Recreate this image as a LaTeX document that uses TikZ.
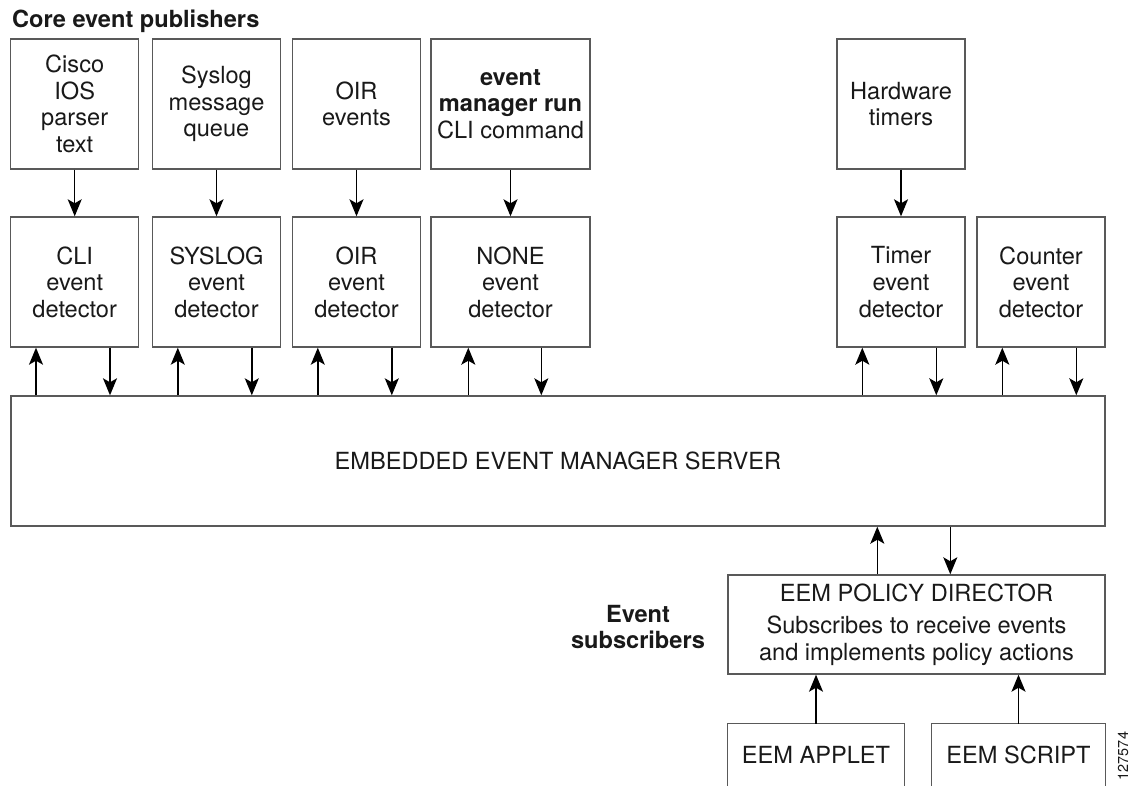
\documentclass[tikz,border=0pt]{standalone}
\usepackage{fontspec}
\setmainfont{TeX Gyre Heros}
\usetikzlibrary{arrows.meta}
\begin{document}
\begin{tikzpicture}[x=0.5pt,y=-0.5pt,>={Stealth[length=8.5pt,width=7pt,inset=2pt]},
  txt/.style={font=\fontsize{11.8}{13.3}\selectfont,align=center,inner sep=0pt,text=black!90},
  pub/.style={txt,draw=black!65,line width=0.7pt,minimum width=64pt,minimum height=65pt},
  arr/.style={->,line width=0.7pt}]
\useasboundingbox (0,0) rectangle (1129,786);
\node[txt,anchor=base west,font=\fontsize{11.8}{13.3}\selectfont\bfseries](title) at (11.7,28){Core event publishers};
% publishers
\node[pub](cisco) at (74.7,104){Cisco\\IOS\\parser\\text};
\node[pub](syslog) at (216.5,104){Syslog\\message\\queue};
\node[pub](oir) at (356.5,104){OIR\\events};
\node[pub,minimum width=79.5pt](run) at (510.5,104){\textbf{event}\\\textbf{manager run}\\CLI command};
\node[pub](hw) at (901,104){Hardware\\timers};
% detectors
\node[pub](cli) at (74.7,282){CLI\\event\\detector};
\node[pub](sysdet) at (216.5,282){SYSLOG\\event\\detector};
\node[pub](oirdet) at (356.5,282){OIR\\event\\detector};
\node[pub,minimum width=79.5pt](none) at (510.5,282){NONE\\event\\detector};
\node[pub](timer) at (901,282){Timer\\event\\detector};
\node[pub](counter) at (1041,282){Counter\\event\\detector};
\node[pub,minimum width=547pt,minimum height=65pt](server) at (557.85,461){EMBEDDED EVENT MANAGER SERVER};
\node[pub,minimum width=188.5pt,minimum height=49.5pt](director) at (916.5,624.5){EEM POLICY DIRECTOR\\[3pt]Subscribes to receive events\\and implements policy actions};
\node[txt,font=\fontsize{11.8}{13.3}\selectfont\bfseries](subs) at (638,627){Event\\subscribers};
\node[txt,minimum width=88pt,minimum height=31pt](applet) at (816,755){EEM APPLET};
\node[txt,minimum width=86.5pt,minimum height=31pt](script) at (1018.5,755){EEM SCRIPT};
\draw[draw=black!65,line width=0.7pt](applet.south west)|-(applet.north east)--(applet.south east);
\draw[draw=black!65,line width=0.7pt](script.south west)|-(script.north east)--(script.south east);
\node[txt,rotate=90,font=\fontsize{7.2}{8}\selectfont](fig) at (1123,756){127574};
% arrows
\draw[arr](cisco)--(cli);
\draw[arr](syslog)--(sysdet);
\draw[arr](oir)--(oirdet);
\draw[arr](run)--(none);
\draw[arr](hw)--(timer);
\draw[arr]([xshift=13pt]cli.south west|-server.north)--([xshift=13pt]cli.south west);
\draw[arr]([xshift=50pt]cli.south west)--([xshift=50pt]cli.south west|-server.north);
\draw[arr]([xshift=13pt]sysdet.south west|-server.north)--([xshift=13pt]sysdet.south west);
\draw[arr]([xshift=50pt]sysdet.south west)--([xshift=50pt]sysdet.south west|-server.north);
\draw[arr]([xshift=13pt]oirdet.south west|-server.north)--([xshift=13pt]oirdet.south west);
\draw[arr]([xshift=50pt]oirdet.south west)--([xshift=50pt]oirdet.south west|-server.north);
\draw[arr]([xshift=19pt]none.south west|-server.north)--([xshift=19pt]none.south west);
\draw[arr]([xshift=55.5pt]none.south west)--([xshift=55.5pt]none.south west|-server.north);
\draw[arr]([xshift=13pt]timer.south west|-server.north)--([xshift=13pt]timer.south west);
\draw[arr]([xshift=50pt]timer.south west)--([xshift=50pt]timer.south west|-server.north);
\draw[arr]([xshift=13pt]counter.south west|-server.north)--([xshift=13pt]counter.south west);
\draw[arr]([xshift=50pt]counter.south west)--([xshift=50pt]counter.south west|-server.north);
\draw[arr]([xshift=75pt]director.north west)--([xshift=75pt]director.north west|-server.south);
\draw[arr]([xshift=111.5pt]director.north west|-server.south)--([xshift=111.5pt]director.north west);
\draw[arr](applet)--(director.south-|applet);
\draw[arr](script)--(director.south-|script);
\end{tikzpicture}
\end{document}
